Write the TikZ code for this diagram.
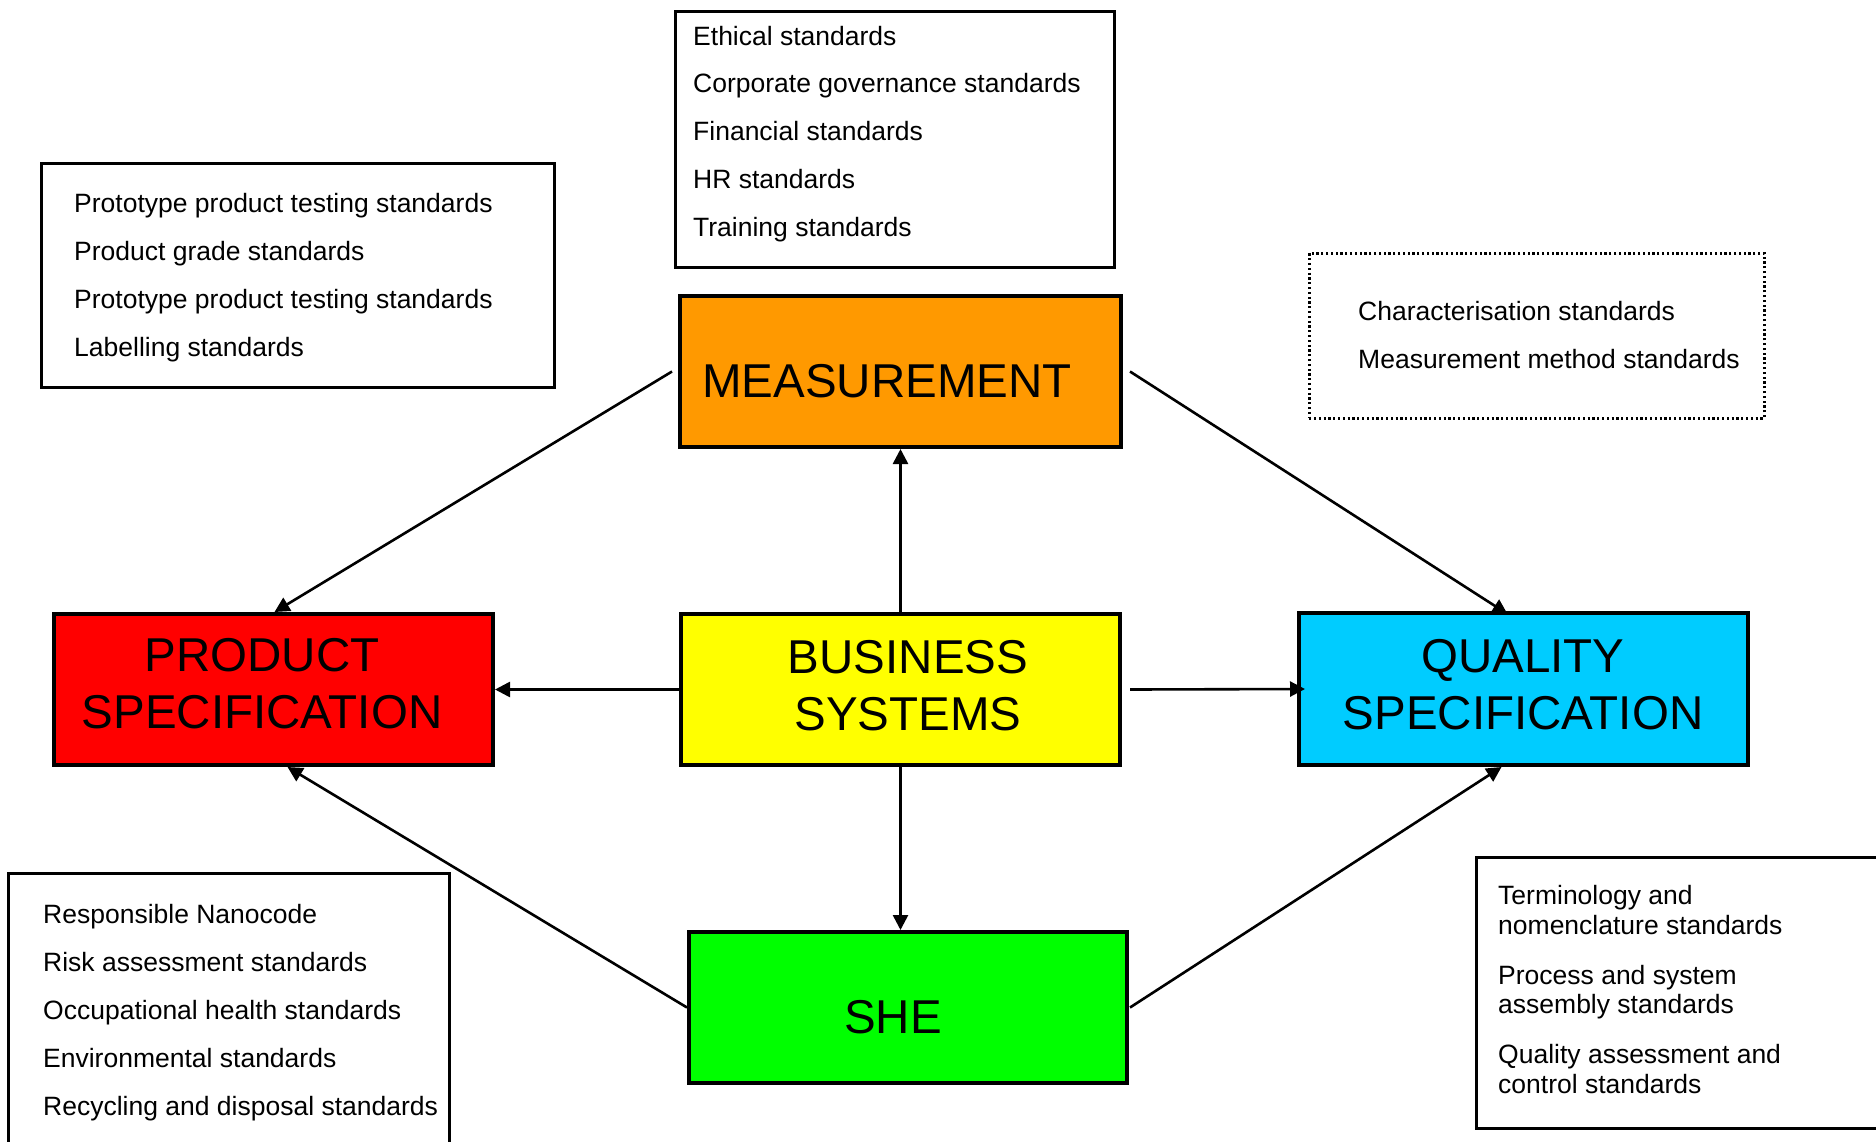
\documentclass[tikz,border=0pt]{standalone}
\usepackage{fontspec}
\setmainfont{Liberation Sans}
\usetikzlibrary{arrows.meta,calc}
\definecolor{cOrange}{HTML}{FF9900}
\definecolor{cRed}{HTML}{FF0000}
\definecolor{cYellow}{HTML}{FFFF00}
\definecolor{cCyan}{HTML}{00CCFF}
\definecolor{cGreen}{HTML}{00FF00}
\tikzset{
  bigbox/.style={draw=black, line width=4pt, inner sep=0pt, minimum width=#1},
  frame/.style={draw=black, line width=2.5pt, inner sep=0pt, anchor=north west},
  dotframe/.style={frame, dash pattern=on 2.2pt off 2.6pt},
  small/.style={inner sep=0pt, anchor=base west, align=left, font=\fontsize{26.5}{48}\selectfont},
  big/.style={inner sep=0pt, anchor=base, align=center, font=\fontsize{47.5}{57}\selectfont},
  conn/.style={line width=2.6pt, -{Triangle[length=15pt,width=15pt]}},
}
\begin{document}
\begin{tikzpicture}[x=1pt,y=-1pt]
\useasboundingbox (0,0) rectangle (1876,1141);
\clip (0,0) rectangle (1876,1141);
% text frames
\node[frame, minimum width=439, minimum height=256] (f1) at (674,10) {};
\node[frame, minimum width=513, minimum height=224] (f2) at (40,162) {};
\node[dotframe, minimum width=455, minimum height=165] (f3) at (1308,252) {};
\node[frame, minimum width=441, minimum height=300] (f4) at (7,872) {};
\node[frame, minimum width=420, minimum height=271] (f5) at (1475,856) {};
% texts (anchored at the baseline of their last line)
\node[small, font=\fontsize{26.5}{47.75}\selectfont] (t1) at (693,236) {Ethical standards\\Corporate governance standards\\Financial standards\\HR standards\\Training standards};
\node[small] (t2) at (74,356) {Prototype product testing standards\\Product grade standards\\Prototype product testing standards\\Labelling standards};
\node[small, font=\fontsize{26.5}{48.5}\selectfont] (t3) at (1358,368.5) {Characterisation standards\\Measurement method standards};
\node[small] (t4) at (43,1115) {Responsible Nanocode\\Risk assessment standards\\Occupational health standards\\Environmental standards\\Recycling and disposal standards};
\node[small, font=\fontsize{26.5}{29.5}\selectfont] (t5) at (1498,1093) {Terminology and\\nomenclature standards\\[20.5pt]Process and system\\assembly standards\\[20.5pt]Quality assessment and\\control standards};
% coloured boxes
\node[bigbox=441, minimum height=151, fill=cOrange] (meas) at (900.5,371.5) {};
\node[bigbox=439, minimum height=151, fill=cRed] (prod) at (273.5,689.5) {};
\node[bigbox=439, minimum height=151, fill=cYellow] (bus) at (900.5,689.5) {};
\node[bigbox=449, minimum height=152, fill=cCyan] (qual) at (1523.5,689) {};
\node[bigbox=438, minimum height=151, fill=cGreen] (she) at (908,1007.5) {};
% labels (anchored at the baseline of their last line)
\node[big] (lmeas) at (887,397) {MEASUREMENT};
\node[big] (lprod) at (262,728) {PRODUCT\\SPECIFICATION};
\node[big] (lbus) at (908,730) {BUSINESS\\SYSTEMS};
\node[big] (lqual) at (1523,729) {QUALITY\\SPECIFICATION};
\node[big] (lshe) at (893,1033) {SHE};
% connectors
\draw[conn] ($(meas.west)+(-6,0)$) -- ($(prod.north)+(1,0)$);
\draw[conn] ($(meas.east)+(7,0)$) -- ($(qual.north)+(-16,3)$);
\draw[conn] (bus.north) -- (meas.south);
\draw[conn] (bus.west) -- (prod.east);
\draw[conn] ($(bus.east)+(8,0)$) -- ($(qual.west)+(8,0)$);
\draw[conn] (bus.south) -- (bus.south |- she.north);
\draw[conn] (she.west) -- ($(prod.south)+(14,0)$);
\draw[conn] ($(she.east)+(1,0)$) -- ($(qual.south)+(-22,0)$);
\end{tikzpicture}
\end{document}
